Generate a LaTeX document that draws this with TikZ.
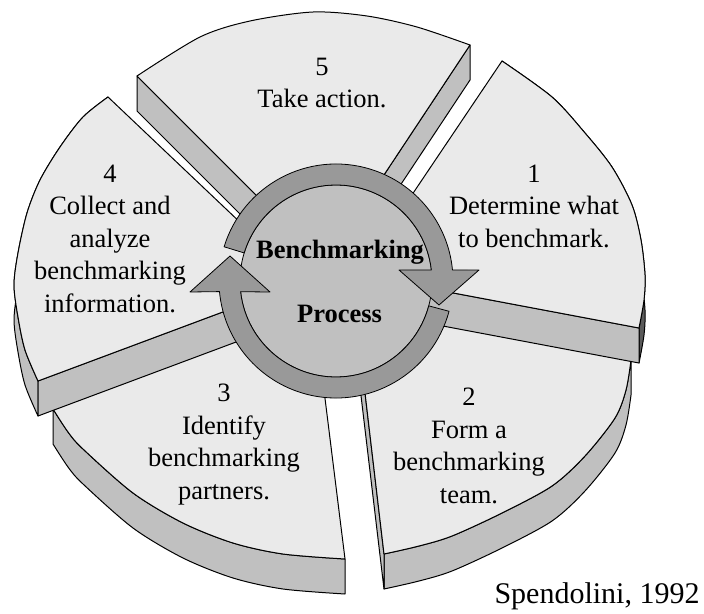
\documentclass[tikz,border=0pt]{standalone}
\usepackage{fontspec}
\setmainfont{Liberation Serif}
\usetikzlibrary{calc}
\definecolor{topc}{HTML}{EAEAEA}
\definecolor{sidec}{HTML}{C0C0C0}
\definecolor{darkc}{HTML}{5A5A5A}
\definecolor{arrowc}{HTML}{999999}
\definecolor{discc}{HTML}{C0C0C0}
\begin{document}
\begin{tikzpicture}[x=1pt,y=-1pt,line join=round,
  topface/.style={fill=topc,draw=black,line width=1pt},
  sideface/.style={fill=sidec,draw=black,line width=1pt},
  darkface/.style={fill=darkc,draw=black,line width=1pt},
  cyclearrow/.style={fill=arrowc,draw=black,line width=0.8pt},
  disc/.style={fill=discc,draw=black,line width=0.8pt},
  steplabel/.style={align=center,font=\fontsize{26.5}{32.5}\selectfont,inner sep=0pt,anchor=base},
  centerlabel/.style={font=\fontsize{26.5}{30}\selectfont\bfseries,inner sep=0pt,anchor=base},
  sourcelabel/.style={font=\fontsize{30}{34}\selectfont,inner sep=0pt,anchor=base}]
\useasboundingbox (0,0) rectangle (704,613);
\coordinate (C) at (336,281);
% segment 5 (top)
\filldraw[sideface] (137,76) -- (325,264) -- (325,299) -- (137,111) -- cycle;
\filldraw[sideface] (470,45) -- (470,80) -- (325,299) -- (325,264) -- cycle;
\filldraw[topface] (325,264) -- (137,76) -- plot[smooth] coordinates {(137,76) (200,37) (250,21) (313,12) (367,16) (417,27) (470,45)} -- cycle;
% segment 3 (lower left)
\filldraw[sideface] plot[smooth] coordinates {(53,409) (68,432) (83,449) (133,493) (183,523) (233,543) (283,554) (345,559)} -- plot[smooth] coordinates {(345,594) (283,589) (233,578) (183,558) (133,528) (83,484) (68,467) (53,444)} -- cycle;
\filldraw[topface] (314,310) -- (53,409) -- plot[smooth] coordinates {(53,409) (68,432) (83,449) (133,493) (183,523) (233,543) (283,554) (345,559)} -- cycle;
% segment 4 (left)
\filldraw[sideface] plot[smooth] coordinates {(108,97) (83,117) (60,147) (40,180) (27,213) (18,253) (14,285) (18,317) (25,350) (38,381)} -- plot[smooth] coordinates {(38,416) (25,385) (18,352) (14,320) (18,288) (27,248) (40,215) (60,182) (83,152) (108,132)} -- cycle;
\filldraw[sideface] (38,381) -- (303,282) -- (303,317) -- (38,416) -- cycle;
\filldraw[topface] (303,282) -- (108,97) -- plot[smooth] coordinates {(108,97) (83,117) (60,147) (40,180) (27,213) (18,253) (14,285) (18,317) (25,350) (38,381)} -- cycle;
% segment 2 (lower right)
\filldraw[sideface] plot[smooth] coordinates {(631,360) (626,390) (615,418) (585,456) (552,486) (502,513) (452,536) (419,546) (384,554)} -- plot[smooth] coordinates {(384,589) (419,581) (452,571) (502,548) (552,521) (585,491) (615,453) (626,425) (631,395)} -- cycle;
\filldraw[sideface] (355,308) -- (384,554) -- (384,589) -- (352,320) -- cycle;
\filldraw[topface] (355,308) -- (631,360) -- plot[smooth] coordinates {(631,360) (626,390) (615,418) (585,456) (552,486) (502,513) (452,536) (419,546) (384,554)} -- cycle;
% segment 1 (right)
\filldraw[darkface] plot[smooth] coordinates {(502,61) (552,97) (585,133) (612,167) (632,205) (641,240) (645,275) (644,300) (639,328)} -- plot[smooth] coordinates {(639,363) (644,335) (645,310) (641,275) (632,240) (612,202) (585,168) (552,132) (502,96)} -- cycle;
\filldraw[sideface] (639,328) -- (358,275) -- (358,310) -- (639,363) -- cycle;
\filldraw[topface] (358,275) -- (502,61) -- plot[smooth] coordinates {(502,61) (552,97) (585,133) (612,167) (632,205) (641,240) (645,275) (644,300) (639,328)} -- cycle;
% centre
\filldraw[disc] (C) circle[radius=96];
\filldraw[cyclearrow] ($(C)+(197:117)$) arc[start angle=197,end angle=354.6,radius=117] -- (479,270) -- (439,305) -- (399,270) -- ($(C)+(353.4:96)$) arc[start angle=353.4,end angle=197,radius=96] -- cycle;
\filldraw[cyclearrow] ($(C)+(15:117)$) arc[start angle=15,end angle=174.8,radius=117] -- (190,292) -- (230,256) -- (270,292) -- ($(C)+(173.6:96)$) arc[start angle=173.6,end angle=15,radius=96] -- cycle;
% labels (base anchor = baseline of the last line)
\node[centerlabel] (bm) at (340,258) {Benchmarking};
\node[centerlabel] (pr) at (339.5,322) {Process};
\node[steplabel] (s5) at (322,107.5) {5\\Take action.};
\node[steplabel] (s1) at (534,247) {1\\Determine what\\to benchmark.};
\node[steplabel] (s4) at (110,312) {4\\Collect and\\analyze\\benchmarking\\information.};
\node[steplabel] (s3) at (224,499) {3\\Identify\\benchmarking\\partners.};
\node[steplabel] (s2) at (469,503) {2\\Form a\\benchmarking\\team.};
\node[sourcelabel] (src) at (597,603) {Spendolini, 1992};
\end{tikzpicture}
\end{document}
